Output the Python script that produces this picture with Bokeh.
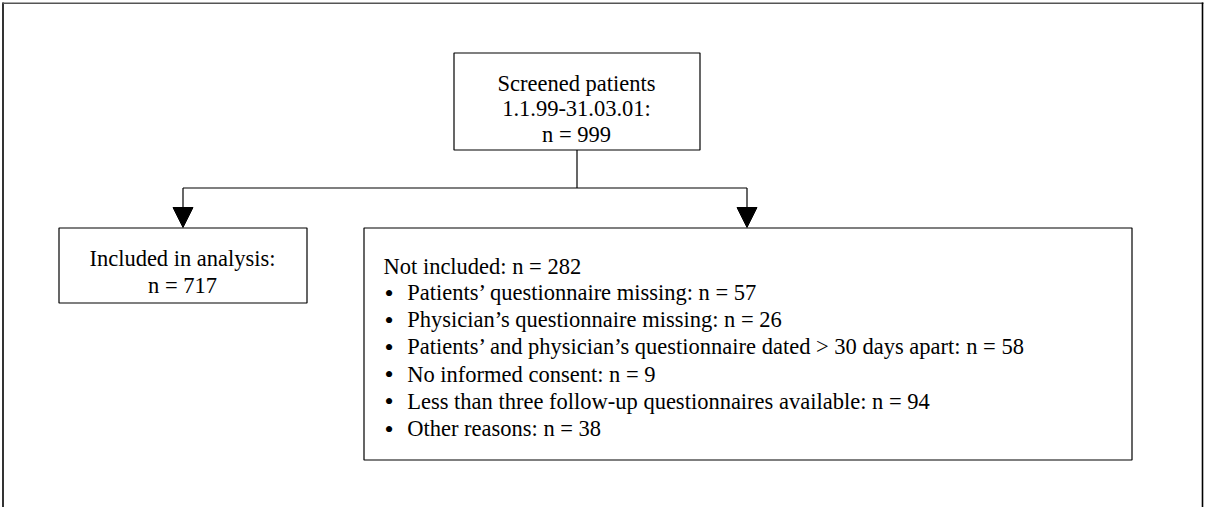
from bokeh.plotting import figure
from bokeh.models import Range1d, Arrow, NormalHead, ColumnDataSource
from bokeh.core.properties import value
from bokeh.embed import file_html
from bokeh.resources import INLINE

# ---- data ----
screened_lines = ["Screened patients", "1.1.99-31.03.01:"]
screened_n = 999
included_label = "Included in analysis:"
included_n = 717
excluded_label = "Not included:"
excluded_n = 282
reasons = [
    "Patients’ questionnaire missing",
    "Physician’s questionnaire missing",
    "Patients’ and physician’s questionnaire dated > 30 days apart",
    "No informed consent",
    "Less than three follow-up questionnaires available",
    "Other reasons",
]
reason_n = [57, 26, 58, 9, 94, 38]

# ---- layout (pixel coordinates of the picture) ----
W, H = 1205, 507
X0, Y0 = 0, 0
FONT = value("Liberation Serif")
FS = "22.5px"

p = figure(width=W, height=H, output_backend="svg", toolbar_location=None,
           x_range=Range1d(X0, X0 + W), y_range=Range1d(Y0 + H, Y0),
           min_border=0)
p.axis.visible = False
p.grid.visible = False
p.outline_line_color = None
p.background_fill_color = "white"
p.border_fill_color = "white"

# outer frame (left, top, right)
p.line([2.5, 2.5], [2, 520], line_color="black", line_width=1.6)
p.line([2, 1203], [2.7, 2.7], line_color="#555555", line_width=1.4)
p.line([1202, 1202], [2, 520], line_color="black", line_width=1.6)

# boxes
box = dict(left=[453.5, 58.5, 363.5], right=[699.5, 306.5, 1131.5],
           top=[52.5, 227.5, 227.5], bottom=[149.5, 302.5, 459.5])
p.quad(source=ColumnDataSource(box), left="left", right="right", top="top",
       bottom="bottom", fill_color=None, line_color="black", line_width=1.2)

# connectors
p.line([576.5, 576.5], [149.5, 187.5], line_color="black", line_width=1.2)
p.line([182.5, 746.5], [187.5, 187.5], line_color="black", line_width=1.2)
for ax in (182.5, 746.5):
    p.add_layout(Arrow(end=NormalHead(size=20, fill_color="black", line_color="black", line_width=1),
                       x_start=ax, y_start=187.5, x_end=ax, y_end=227,
                       line_color="black", line_width=1.2))

# texts
top_txt = screened_lines + [f"n = {screened_n}"]
p.text(x=[576] * 3, y=[82.7, 108.3, 134], text=top_txt, text_font=FONT,
       text_font_size=FS, text_align="center", text_baseline="alphabetic",
       text_color="black")

left_txt = [included_label, f"n = {included_n}"]
p.text(x=[182] * 2, y=[258.3, 285], text=left_txt, text_font=FONT,
       text_font_size=FS, text_align="center", text_baseline="alphabetic",
       text_color="black")

p.text(x=[383], y=[265.5], text=[f"{excluded_label} n = {excluded_n}"],
       text_font=FONT, text_font_size=FS, text_align="left",
       text_baseline="alphabetic", text_color="black")

ys = [292 + 27.2 * i for i in range(len(reasons))]
p.text(x=[388.5] * len(reasons), y=[v + 0.5 for v in ys], text=["•"] * len(reasons),
       text_font=FONT, text_font_size="26px", text_align="center",
       text_baseline="alphabetic", text_color="black")
p.text(x=[406.7] * len(reasons), y=ys,
       text=[f"{r}: n = {n}" for r, n in zip(reasons, reason_n)],
       text_font=FONT, text_font_size=FS, text_align="left",
       text_baseline="alphabetic", text_color="black")

open("out.html", "w").write(file_html(p, INLINE))
